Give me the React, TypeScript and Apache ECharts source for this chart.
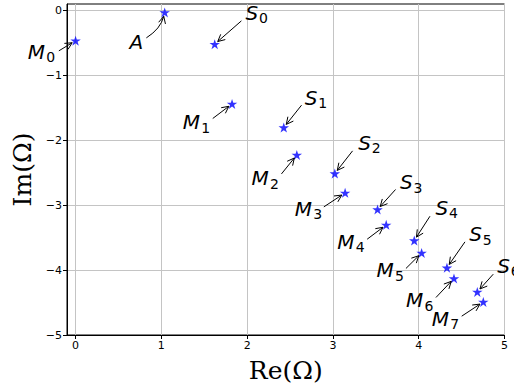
import React, { useEffect, useRef } from "react";
import * as echarts from "echarts";

// Points (Re, Im)
const names = ["M0", "A", "S0", "M1", "S1", "M2", "S2", "M3", "S3", "M4", "S4", "M5", "S5", "M6", "S6", "M7"];
const pointX = [0, 1.039, 1.622, 1.824, 2.427, 2.579, 3.022, 3.142, 3.52, 3.621, 3.948, 4.034, 4.329, 4.411, 4.683, 4.753];
const pointY = [-0.465, -0.03, -0.519, -1.439, -1.803, -2.225, -2.512, -2.81, -3.066, -3.303, -3.544, -3.735, -3.963, -4.129, -4.336, -4.49];

// Annotation arrow tails (data coords)
const tailX = [-0.195, 0.825, 1.933, 1.599, 2.634, 2.4, 3.229, 2.894, 3.73, 3.399, 4.131, 3.851, 4.539, 4.201, 4.869, 4.501];
const tailY = [-0.622, -0.422, -0.16, -1.664, -1.459, -2.518, -2.163, -3.026, -2.758, -3.524, -3.17, -3.975, -3.565, -4.422, -4.063, -4.71];

// Annotation text anchors (data coords)
const textX = [-0.557, 0.63, 1.98, 1.249, 2.672, 2.05, 3.294, 2.555, 3.781, 3.049, 4.197, 3.509, 4.589, 3.851, 4.916, 4.151];
const textY = [-0.638, -0.488, -0.034, -1.721, -1.344, -2.581, -2.04, -3.051, -2.646, -3.565, -3.043, -4.002, -3.447, -4.468, -3.932, -4.753];

const xTicks = [0, 1, 2, 3, 4, 5];
const yTicks = [-5, -4, -3, -2, -1, 0];

// arrow curvature (arc3 rad) per label
const CURVE: Record<string, number> = { A: 0.2 };

const STAR =
  "path://M0,-1L0.2245,-0.309L0.951,-0.309L0.363,0.118L0.588,0.809L0,0.382L-0.588,0.809L-0.363,0.118L-0.951,-0.309L-0.2245,-0.309Z";

const fmt = (v: number) => (v < 0 ? "\u2212" + Math.abs(v) : String(v));

export default function App() {
  const ref = useRef<HTMLDivElement>(null);
  useEffect(() => {
    if (!ref.current) return;
    const chart = echarts.init(ref.current, undefined, { renderer: "svg" });
    const annData = names.map((_, i) => [tailX[i], tailY[i], pointX[i], pointY[i], textX[i], textY[i]]);
    const advance: Record<string, number> = { M: 18.5, S: 13.5, A: 14 };
    chart.setOption({
      animation: false,
      backgroundColor: "#fff",
      grid: {
        left: 67,
        top: 4,
        right: 9.5,
        bottom: 53,
        show: true,
        borderColor: "#000",
        borderWidth: 1,
        backgroundColor: "transparent",
      },
      xAxis: {
        type: "value",
        min: -0.1,
        max: 5,
        name: "Re(\u03A9)",
        nameLocation: "middle",
        nameGap: 23,
        nameTextStyle: { fontFamily: "DejaVu Serif", fontSize: 25, color: "#000" },
        axisLine: { show: true, onZero: false, lineStyle: { color: "#000", width: 1 } },
        axisTick: { show: true, length: 4, customValues: xTicks, lineStyle: { color: "#000" } },
        axisLabel: {
          customValues: xTicks,
          formatter: fmt,
          fontFamily: "DejaVu Sans",
          fontSize: 11,
          color: "#000",
          margin: 5,
        },
        splitLine: { show: true, lineStyle: { color: "#c4c4c4", width: 1 } },
      },
      yAxis: {
        type: "value",
        min: -5,
        max: 0.1,
        name: "Im(\u03A9)",
        nameLocation: "middle",
        nameGap: 32,
        nameRotate: 90,
        nameTextStyle: { fontFamily: "DejaVu Serif", fontSize: 25, color: "#000" },
        axisLine: { show: true, onZero: false, lineStyle: { color: "#000", width: 1 } },
        axisTick: { show: true, length: 4, customValues: yTicks, lineStyle: { color: "#000" } },
        axisLabel: {
          customValues: yTicks,
          formatter: fmt,
          fontFamily: "DejaVu Sans",
          fontSize: 11,
          color: "#000",
          margin: 5,
        },
        splitLine: { show: true, lineStyle: { color: "#c4c4c4", width: 1 } },
      },
      series: [
        {
          type: "scatter",
          data: pointX.map((x, i) => [x, pointY[i]]),
          symbol: STAR,
          symbolSize: [10.5, 10],
          itemStyle: { color: "#0000ff" },
          z: 3,
        },
        {
          type: "custom",
          clip: false,
          z: 4,
          data: annData,
          encode: { x: [0, 2, 4], y: [1, 3, 5] },
          renderItem: (params: any, api: any) => {
            const i = params.dataIndex;
            const t = api.coord([api.value(0), api.value(1)]);
            const p = api.coord([api.value(2), api.value(3)]);
            const l = api.coord([api.value(4), api.value(5)]);
            const name = names[i];
            const main = name[0];
            const sub = name.slice(1);
            const rad = CURVE[name] || 0;
            // control point (screen coords, y down) for arc3 style
            const mx = (t[0] + p[0]) / 2;
            const my = (t[1] + p[1]) / 2;
            const ddx = p[0] - t[0];
            const ddy = p[1] - t[1];
            const cx = mx - rad * ddy;
            const cy = my + rad * ddx;
            // direction at end
            const ex = p[0] - (rad ? cx : t[0]);
            const ey = p[1] - (rad ? cy : t[1]);
            const len = Math.hypot(ex, ey) || 1;
            const ux = ex / len;
            const uy = ey / len;
            const shrink = 4;
            const hx = p[0] - ux * shrink;
            const hy = p[1] - uy * shrink;
            const hl = 7;
            const hw = 3.5;
            const bx = hx - ux * hl;
            const by = hy - uy * hl;
            const nx = -uy;
            const ny = ux;
            const shaft = rad
              ? {
                  type: "bezierCurve",
                  shape: { x1: t[0], y1: t[1], x2: hx, y2: hy, cpx1: cx, cpy1: cy },
                  style: { stroke: "#000", lineWidth: 1, fill: "none" },
                }
              : {
                  type: "line",
                  shape: { x1: t[0], y1: t[1], x2: hx, y2: hy },
                  style: { stroke: "#000", lineWidth: 1, fill: "none" },
                };
            const children: any[] = [
              shaft,
              {
                type: "polyline",
                shape: {
                  points: [
                    [bx + nx * hw, by + ny * hw],
                    [hx, hy],
                    [bx - nx * hw, by - ny * hw],
                  ],
                },
                style: { stroke: "#000", lineWidth: 1, fill: "none" },
              },
              {
                type: "text",
                x: l[0],
                y: l[1],
                style: {
                  text: main,
                  fontSize: 20,
                  fontStyle: "italic",
                  fontFamily: "DejaVu Sans",
                  fill: "#000",
                  align: "left",
                  verticalAlign: "middle",
                },
              },
            ];
            if (sub) {
              children.push({
                type: "text",
                x: l[0] + advance[main],
                y: l[1] + 5.5,
                style: {
                  text: sub,
                  fontSize: 14,
                  fontFamily: "DejaVu Sans",
                  fill: "#000",
                  align: "left",
                  verticalAlign: "middle",
                },
              });
            }
            return { type: "group", children };
          },
        },
      ],
    });
    return () => chart.dispose();
  }, []);
  return (
    <div
      ref={ref}
      style={{ position: "fixed", left: 0, top: 0, width: 514, height: 388, background: "#fff" }}
    />
  );
}
